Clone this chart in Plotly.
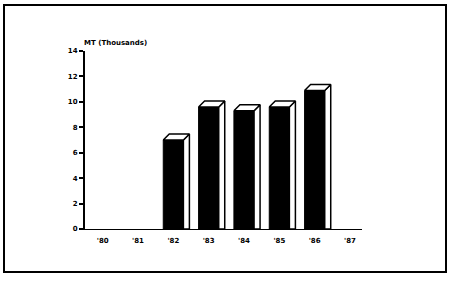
import plotly.graph_objects as go

years = ["'80", "'81", "'82", "'83", "'84", "'85", "'86", "'87"]
values = [0, 0, 7.0, 9.6, 9.3, 9.6, 10.9, 0]
y_ticks = [0, 2, 4, 6, 8, 10, 12, 14]
y_title = "MT (Thousands)"

W, H = 450, 282
L, R, T, B = 85, 88, 51, 53
bar_w = 0.57
dx = 0.17   # depth offset in category units
dy = 0.47   # depth offset in value units

fig = go.Figure()

xs = list(range(len(years)))
bx = [x for x, v in zip(xs, values) if v > 0]
bv = [v for v in values if v > 0]

# 3D side and top faces
for x, v in zip(bx, bv):
    xl, xr = x - bar_w / 2, x + bar_w / 2
    fig.add_trace(go.Scatter(
        x=[xr, xr + dx, xr + dx, xr, xr],
        y=[0, 0, v + dy, v, 0],
        mode="lines", fill="toself", fillcolor="white",
        line=dict(color="black", width=1.5), hoverinfo="skip", showlegend=False))
    fig.add_trace(go.Scatter(
        x=[xl, xl + dx, xr + dx, xr, xl],
        y=[v, v + dy, v + dy, v, v],
        mode="lines", fill="toself", fillcolor="white",
        line=dict(color="black", width=1.5), hoverinfo="skip", showlegend=False))

fig.add_trace(go.Bar(
    x=bx, y=bv, width=bar_w,
    marker=dict(color="black", line=dict(color="black", width=1)),
    showlegend=False))

tick_font = dict(family="DejaVu Sans", size=7, color="black", weight="bold")

fig.update_layout(
    width=W, height=H,
    margin=dict(l=L, r=R, t=T, b=B),
    paper_bgcolor="white", plot_bgcolor="white",
    showlegend=False,
    xaxis=dict(
        range=[-0.5, 7.34], tickmode="array", tickvals=xs, ticktext=years,
        showgrid=False, zeroline=False, showline=True, linecolor="black",
        linewidth=1.2, ticks="", tickfont=tick_font, ticklabelstandoff=4),
    yaxis=dict(
        range=[0, 14], tickmode="array", tickvals=y_ticks,
        showgrid=False, zeroline=False, showline=True, linecolor="black",
        linewidth=2, ticks="outside", ticklen=4, tickwidth=1.5,
        tickcolor="black", tickfont=tick_font),
    annotations=[dict(
        text=y_title, xref="paper", yref="paper", x=0, y=1,
        xanchor="left", yanchor="bottom", showarrow=False, yshift=2, xshift=-3,
        font=dict(family="DejaVu Sans", size=7, color="black", weight="bold"))],
    shapes=[dict(
        type="rect", xref="paper", yref="paper",
        x0=(4 - L) / (W - L - R), x1=(446 - L) / (W - L - R),
        y0=((H - B) - 272) / (H - T - B), y1=((H - B) - 5) / (H - T - B),
        line=dict(color="black", width=2), fillcolor="rgba(0,0,0,0)")],
)

fig.write_html("out.html")
